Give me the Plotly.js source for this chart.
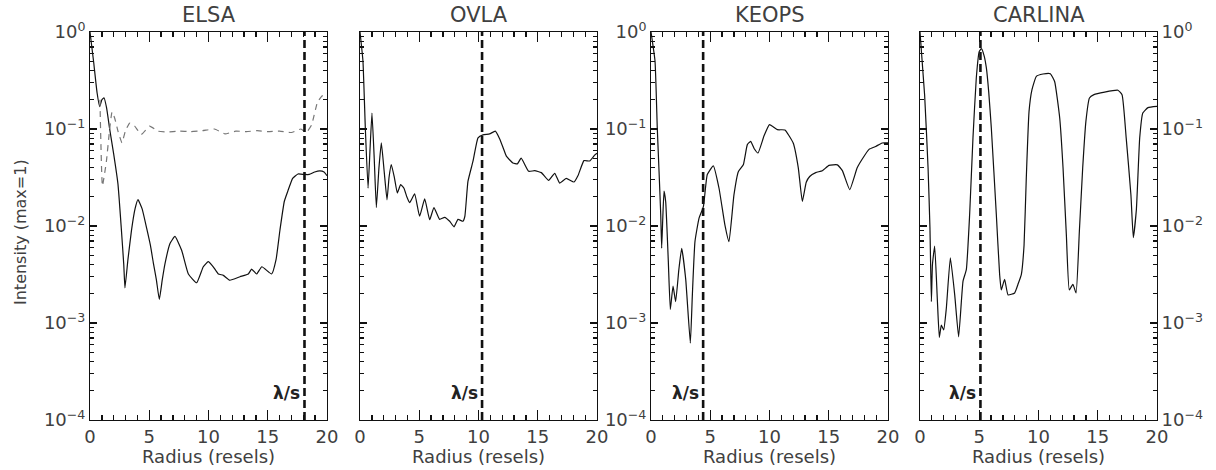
<!DOCTYPE html>
<html><head><meta charset="utf-8">
<script src="https://cdn.plot.ly/plotly-3.0.1.min.js"></script>
<style>html,body{margin:0;padding:0;background:#fff}</style>
</head><body><div id="chart" style="width:1216px;height:470px"></div>
<script>
const panelTitles = ['ELSA', 'OVLA', 'KEOPS', 'CARLINA'];
const lambdaS = [18.1, 10.3, 4.4, 5.1];
const lambdaLabel = 'λ/s';
const xTitle = 'Radius (resels)';
const yTitle = 'Intensity (max=1)';
const xTickVals = [0, 5, 10, 15, 20];
const xTickText = ['0', '5', '10', '15', '20'];
const yTickVals = [1e-4, 1e-3, 1e-2, 1e-1, 1];
const yTickText = ['10<sup>−4</sup>', '10<sup>−3</sup>', '10<sup>−2</sup>', '10<sup>−1</sup>', '10<sup>0</sup>'];

const elsaX = [0, 0.3, 0.6, 0.82, 1.0, 1.18, 1.4, 1.66, 2.0, 2.36, 2.64, 2.85, 2.95, 3.2, 3.5, 3.8, 4.05, 4.4, 4.78, 5.1, 5.34, 5.6, 5.85, 6.1, 6.33, 6.75, 7.17, 7.74, 8.3, 9.0, 9.56, 9.98, 10.4, 10.83, 11.25, 11.8, 12.66, 13.36, 13.64, 14.06, 14.5, 15.33, 15.7, 16.03, 16.4, 16.7, 17.1, 17.55, 18.1, 18.5, 18.96, 19.4, 19.75, 20];
const elsaY = [1.0, 0.5, 0.235, 0.17, 0.2, 0.21, 0.165, 0.1, 0.055, 0.027, 0.0095, 0.004, 0.0023, 0.0045, 0.009, 0.015, 0.0187, 0.015, 0.0095, 0.0063, 0.0042, 0.0028, 0.00175, 0.0028, 0.0041, 0.0066, 0.0078, 0.0056, 0.0032, 0.0026, 0.0038, 0.0043, 0.0038, 0.0032, 0.0031, 0.00276, 0.003, 0.0032, 0.0036, 0.0032, 0.0038, 0.0032, 0.0045, 0.0091, 0.018, 0.023, 0.031, 0.0344, 0.034, 0.034, 0.036, 0.037, 0.036, 0.033];
const elsaDashX = [0.84, 1.05, 1.38, 1.66, 1.86, 2.08, 2.36, 2.7, 2.98, 3.35, 3.77, 4.33, 5.03, 5.74, 6.5, 7.5, 8.5, 9.5, 10.5, 11.4, 12.3, 13.2, 14.1, 15.0, 16.0, 17.0, 17.8, 18.25, 18.7, 19.2, 19.6, 20];
const elsaDashY = [0.2, 0.026, 0.046, 0.1, 0.15, 0.13, 0.095, 0.072, 0.095, 0.115, 0.107, 0.088, 0.107, 0.095, 0.093, 0.095, 0.094, 0.096, 0.1, 0.089, 0.095, 0.094, 0.096, 0.094, 0.095, 0.092, 0.1, 0.092, 0.11, 0.19, 0.22, 0.235];

const ovlaX = [0, 0.25, 0.45, 0.68, 0.85, 1.01, 1.2, 1.38, 1.6, 1.8, 2.05, 2.28, 2.45, 2.64, 2.9, 3.15, 3.43, 3.71, 3.95, 4.19, 4.61, 5.03, 5.46, 5.88, 6.24, 6.72, 7.14, 7.57, 7.93, 8.27, 8.69, 8.85, 9.11, 9.54, 9.96, 10.38, 10.94, 11.42, 11.79, 12.1, 12.35, 12.9, 13.28, 13.6, 14.23, 14.74, 15.3, 15.92, 16.43, 16.85, 17.4, 18.06, 18.4, 18.9, 19.38, 19.8, 20];
const ovlaY = [1.0, 0.5, 0.102, 0.0245, 0.063, 0.146, 0.05, 0.0155, 0.04, 0.072, 0.0355, 0.0186, 0.0316, 0.043, 0.0316, 0.0219, 0.0267, 0.0245, 0.02, 0.0174, 0.0214, 0.0126, 0.019, 0.0116, 0.0155, 0.0117, 0.0123, 0.0112, 0.0098, 0.0117, 0.0112, 0.0126, 0.0288, 0.0468, 0.081, 0.087, 0.089, 0.095, 0.079, 0.063, 0.0525, 0.0447, 0.0437, 0.05, 0.0366, 0.0372, 0.0355, 0.0295, 0.0349, 0.0277, 0.0309, 0.0284, 0.0331, 0.0472, 0.0468, 0.0537, 0.0562];

const keopsX = [0, 0.34, 0.53, 0.68, 0.82, 0.9, 1.0, 1.1, 1.24, 1.46, 1.63, 1.86, 2.08, 2.35, 2.59, 2.93, 3.32, 3.49, 3.71, 4.05, 4.42, 4.75, 5.26, 5.74, 6.24, 6.58, 7.0, 7.37, 7.79, 8.13, 8.41, 8.7, 9.03, 9.54, 10.0, 10.66, 11.3, 12.0, 12.43, 12.77, 13.1, 13.39, 13.9, 14.46, 15.02, 15.73, 16.15, 16.77, 17.4, 17.83, 18.4, 18.96, 19.5, 20];
const keopsY = [1.0, 0.5, 0.102, 0.0363, 0.0132, 0.0059, 0.0126, 0.0229, 0.0178, 0.00437, 0.00138, 0.0024, 0.00166, 0.00355, 0.0059, 0.00282, 0.00062, 0.00195, 0.0069, 0.012, 0.0158, 0.0339, 0.0417, 0.0245, 0.0102, 0.0069, 0.0209, 0.0363, 0.0427, 0.069, 0.0746, 0.063, 0.0566, 0.085, 0.111, 0.0984, 0.0977, 0.0718, 0.0398, 0.0179, 0.0282, 0.0324, 0.0355, 0.0372, 0.0422, 0.0427, 0.0372, 0.0237, 0.0398, 0.049, 0.0617, 0.066, 0.0718, 0.0718];

const carlinaX = [0, 0.39, 0.68, 0.84, 0.96, 1.05, 1.24, 1.46, 1.63, 1.8, 2.0, 2.22, 2.56, 2.93, 3.26, 3.63, 3.91, 4.19, 4.47, 4.75, 5.0, 5.18, 5.4, 5.6, 5.8, 6.02, 6.44, 6.72, 6.86, 7.14, 7.43, 7.99, 8.27, 8.55, 8.78, 8.97, 9.2, 9.45, 9.82, 10.38, 11.0, 11.36, 11.79, 12.07, 12.35, 12.6, 12.9, 13.17, 13.45, 13.73, 14.0, 14.3, 14.68, 15.58, 16.7, 17.05, 17.4, 17.8, 18.0, 18.26, 18.54, 18.8, 19.24, 20];
const carlinaY = [1.0, 0.224, 0.0398, 0.00955, 0.00166, 0.004, 0.0062, 0.00178, 0.00071, 0.00095, 0.00085, 0.00141, 0.0047, 0.00195, 0.00072, 0.0027, 0.00355, 0.0132, 0.081, 0.336, 0.63, 0.673, 0.575, 0.427, 0.24, 0.102, 0.0132, 0.00316, 0.00219, 0.00282, 0.00195, 0.00204, 0.00251, 0.00316, 0.0063, 0.0313, 0.151, 0.254, 0.349, 0.369, 0.372, 0.309, 0.13, 0.0398, 0.0081, 0.00219, 0.00251, 0.00204, 0.0089, 0.0398, 0.12, 0.209, 0.226, 0.24, 0.251, 0.226, 0.081, 0.0209, 0.0076, 0.0148, 0.081, 0.146, 0.166, 0.171];

const W = 1216, H = 470;
const panelPx = [[90, 327], [360, 597], [651, 888], [920, 1157]];
const yDom = [1 - 420 / H, 1 - 32 / H];
const FONT = 'DejaVu Sans';
const TXT = '#404040';
const AX = '#111';

const minorY = [];
for (let d = -4; d < 0; d++) for (let k = 2; k <= 9; k++) minorY.push(k * Math.pow(10, d));

function xTicks(c) {
  return {
    range: [0, 20], showgrid: false, zeroline: false,
    ticks: 'inside', ticklen: 10, tickwidth: 1.3, tickcolor: c,
    tickmode: 'array', tickvals: xTickVals, ticktext: xTickText,
    minor: {tickmode: 'linear', tick0: 0, dtick: 1, ticks: 'inside', ticklen: 5, tickwidth: 1.3, tickcolor: c, showgrid: false},
    tickfont: {family: FONT, size: 18, color: TXT}, fixedrange: true
  };
}
function yTicks(c) {
  return {
    type: 'log', range: [-4, 0], showgrid: false, zeroline: false,
    ticks: 'inside', ticklen: 7, tickwidth: 1.3, tickcolor: c,
    tickmode: 'array', tickvals: yTickVals, ticktext: yTickText,
    minor: {tickmode: 'array', tickvals: minorY, ticks: 'inside', ticklen: 4, tickwidth: 1.3, tickcolor: c, showgrid: false},
    tickfont: {family: FONT, size: 18, color: TXT}, fixedrange: true
  };
}

const series = [[elsaX, elsaY], [ovlaX, ovlaY], [keopsX, keopsY], [carlinaX, carlinaY]];
const data = [];
const layout = {
  width: W, height: H, margin: {l: 0, r: 0, t: 0, b: 0},
  paper_bgcolor: '#fff', plot_bgcolor: '#fff', showlegend: false,
  shapes: [], annotations: []
};
series.forEach((s, i) => {
  const n = i === 0 ? '' : String(i + 1);
  const m = String(i + 5);
  data.push({x: s[0], y: s[1], xaxis: 'x' + n, yaxis: 'y' + n, type: 'scatter', mode: 'lines',
    line: {color: '#111', width: 1.2, shape: 'spline', smoothing: 0.4}, hoverinfo: 'skip'});
  // invisible companions so the mirrored tick axes (top / opposite side) get their subplots
  data.push({x: s[0], y: s[1], xaxis: 'x' + m, yaxis: 'y' + n, type: 'scatter', mode: 'lines',
    line: {width: 0}, opacity: 0, hoverinfo: 'skip'});
  data.push({x: s[0], y: s[1], xaxis: 'x' + n, yaxis: 'y' + m, type: 'scatter', mode: 'lines',
    line: {width: 0}, opacity: 0, hoverinfo: 'skip'});
  layout['xaxis' + n] = Object.assign(xTicks(AX), {
    domain: [panelPx[i][0] / W, panelPx[i][1] / W], anchor: 'y' + n,
    showline: true, linecolor: AX, linewidth: 1, mirror: true
  });
  layout['xaxis' + m] = Object.assign(xTicks(AX), {
    overlaying: 'x' + n, anchor: 'y' + n, side: 'top', showline: false, showticklabels: false
  });
  layout['yaxis' + n] = Object.assign(yTicks(AX), {
    domain: yDom, anchor: 'x' + n, side: i === 3 ? 'right' : 'left',
    showline: true, linecolor: AX, linewidth: 1, mirror: true, showticklabels: i !== 1
  });
  layout['yaxis' + m] = Object.assign(yTicks(AX), {
    overlaying: 'y' + n, anchor: 'x' + n, side: i === 3 ? 'left' : 'right', showline: false, showticklabels: false
  });
  layout.shapes.push({type: 'line', xref: 'x' + n, yref: 'y' + n + ' domain', x0: lambdaS[i], x1: lambdaS[i], y0: 0, y1: 1,
    line: {color: '#111', width: 2.6, dash: '8px,4px'}});
  layout.annotations.push({xref: 'x' + n, yref: 'y' + n + ' domain', x: lambdaS[i], y: 0.07, xanchor: 'right', yanchor: 'middle',
    xshift: -2, text: '<b>' + lambdaLabel + '</b>', showarrow: false, font: {family: FONT, size: 17, color: '#222'}});
  layout.annotations.push({xref: 'x' + n + ' domain', yref: 'paper', x: 0.5, y: 1 - 15 / H, xanchor: 'center', yanchor: 'middle',
    text: panelTitles[i], showarrow: false, font: {family: FONT, size: 21, color: TXT}});
  layout.annotations.push({xref: 'x' + n + ' domain', yref: 'paper', x: 0.5, y: 1 - 456 / H, xanchor: 'center', yanchor: 'middle',
    text: xTitle, showarrow: false, font: {family: FONT, size: 18, color: TXT}});
});
data.splice(1, 0, {x: elsaDashX, y: elsaDashY, xaxis: 'x', yaxis: 'y', type: 'scatter', mode: 'lines',
  line: {color: '#777', width: 1.2, dash: '6px,5px', shape: 'spline', smoothing: 0.4}, hoverinfo: 'skip'});
layout.annotations.push({xref: 'paper', yref: 'paper', x: 20 / W, y: 1 - 232 / H, xanchor: 'center', yanchor: 'middle',
  textangle: -90, text: yTitle, showarrow: false, font: {family: FONT, size: 16, color: TXT}});

Plotly.newPlot('chart', data, layout, {displayModeBar: false, staticPlot: true});
</script></body></html>
